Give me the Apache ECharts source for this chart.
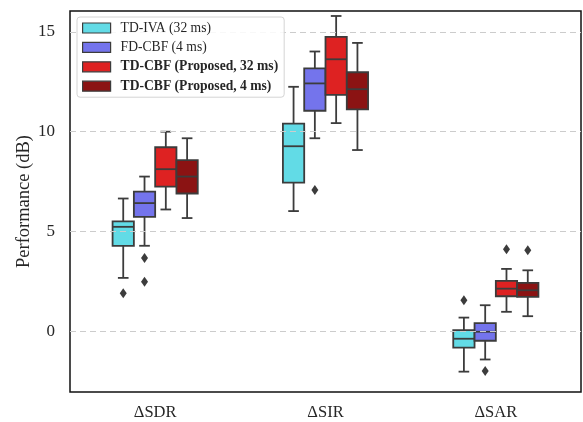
<!DOCTYPE html>
<html><head><meta charset="utf-8">
<script src="https://cdn.jsdelivr.net/npm/echarts@6/dist/echarts.min.js"></script>
<style>html,body{margin:0;padding:0;background:#fff}#c{width:583px;height:422px}</style>
</head><body><div id="c"></div>
<script>
const categories = ['ΔSDR', 'ΔSIR', 'ΔSAR'];
const seriesNames = ['TD-IVA (32 ms)', 'FD-CBF (4 ms)', 'TD-CBF (Proposed, 32 ms)', 'TD-CBF (Proposed, 4 ms)'];
const seriesColors = ['#62dbe6', '#7474ec', '#de2222', '#8b1313'];
// [min, Q1, median, Q3, max] per category
const tdIva = [[2.67, 4.28, 5.23, 5.5, 6.65], [6.02, 7.45, 9.27, 10.4, 12.25], [-2.03, -0.83, -0.38, 0.05, 0.68]];
const tdIvaOut = [[1.9], [], [1.55]];
const fdCbf = [[4.28, 5.73, 6.42, 7.0, 7.75], [9.67, 11.05, 12.42, 13.17, 14.02], [-1.42, -0.48, -0.03, 0.4, 1.3]];
const fdCbfOut = [[3.67, 2.48], [7.08], [-2.0]];
const tdCbf32 = [[6.1, 7.25, 8.12, 9.22, 10.0], [10.43, 11.85, 13.63, 14.75, 15.8], [0.97, 1.75, 2.13, 2.52, 3.12]];
const tdCbf32Out = [[], [], [4.1]];
const tdCbf4 = [[5.67, 6.9, 7.75, 8.57, 9.67], [9.08, 11.12, 12.13, 12.98, 14.45], [0.75, 1.72, 2.05, 2.42, 3.05]];
const tdCbf4Out = [[], [], [4.05]];
const yTicks = [0, 5, 10, 15];

const allStats = [tdIva, fdCbf, tdCbf32, tdCbf4];
const allOut = [tdIvaOut, fdCbfOut, tdCbf32Out, tdCbf4Out];
const edge = '#3c3c3c';
const font = 'Liberation Serif';

function makeRender(k) {
  return function (params, api) {
    const cat = api.value(0);
    const band = api.size([1, 0])[0];
    const bw = band * 0.125;
    const cx = api.coord([cat, 0])[0] + (k - 1.5) * bw;
    const y = v => api.coord([cat, v])[1];
    const mn = y(api.value(1)), q1 = y(api.value(2)), md = y(api.value(3)), q3 = y(api.value(4)), mx = y(api.value(5));
    const ls = { stroke: edge, lineWidth: 1.8 };
    const children = [
      { type: 'line', shape: { x1: cx, y1: mn, x2: cx, y2: q1 }, style: ls },
      { type: 'line', shape: { x1: cx, y1: q3, x2: cx, y2: mx }, style: ls },
      { type: 'line', shape: { x1: cx - bw / 4, y1: mn, x2: cx + bw / 4, y2: mn }, style: ls },
      { type: 'line', shape: { x1: cx - bw / 4, y1: mx, x2: cx + bw / 4, y2: mx }, style: ls },
      { type: 'rect', shape: { x: cx - bw / 2, y: q3, width: bw, height: q1 - q3 }, style: { fill: seriesColors[k], stroke: edge, lineWidth: 1.8 } },
      { type: 'line', shape: { x1: cx - bw / 2, y1: md, x2: cx + bw / 2, y2: md }, style: ls }
    ];
    (allOut[k][params.dataIndex] || []).forEach(v => {
      const oy = y(v);
      children.push({ type: 'polygon', shape: { points: [[cx, oy - 5], [cx + 3.5, oy], [cx, oy + 5], [cx - 3.5, oy]] }, style: { fill: edge } });
    });
    return { type: 'group', children };
  };
}

const series = [{
  type: 'line', data: [], z: 1, silent: true,
  markLine: {
    silent: true, symbol: 'none', animation: false, label: { show: false },
    lineStyle: { color: '#cccccc', type: [6, 4], width: 1 },
    data: yTicks.map(v => ({ yAxis: v }))
  }
}];
allStats.forEach((st, k) => {
  series.push({
    name: seriesNames[k], type: 'custom', z: 3,
    itemStyle: { color: seriesColors[k] },
    renderItem: makeRender(k),
    encode: { x: 0, y: [1, 2, 3, 4, 5] },
    data: categories.map((c, i) => [i].concat(st[i]))
  });
});

const chart = echarts.init(document.getElementById('c'));
chart.setOption({
  animation: false,
  grid: { left: 70, right: 2, top: 11, bottom: 30, show: true, borderColor: '#111', borderWidth: 1.5, backgroundColor: '#fff' },
  legend: {
    orient: 'vertical', left: 77, top: 17, itemWidth: 28, itemHeight: 10, itemGap: 3.4,
    padding: [3, 6, 3, 5], borderColor: '#d4d4d4', borderWidth: 1, borderRadius: 3,
    backgroundColor: 'rgba(255,255,255,0.85)', selectedMode: false, z: 10,
    textStyle: { fontFamily: font, fontSize: 13.6, color: '#262626', lineHeight: 16, padding: [0, 0, 0, 5] },
    data: seriesNames.map((n, i) => ({
      name: n, icon: 'rect',
      itemStyle: { color: seriesColors[i], borderColor: edge, borderWidth: 1.2 },
      textStyle: { fontWeight: i >= 2 ? 'bold' : 'normal' }
    }))
  },
  xAxis: {
    type: 'category', data: categories,
    axisLine: { show: false }, axisTick: { show: false },
    axisLabel: { fontFamily: font, fontSize: 16.5, color: '#262626', margin: 12 },
    splitLine: { show: false }
  },
  yAxis: {
    type: 'value', min: -3.05, max: 16.05,
    name: 'Performance (dB)', nameLocation: 'middle', nameGap: 36.5, nameMoveOverlap: false,
    nameTextStyle: { fontFamily: font, fontSize: 18.5, color: '#262626' },
    axisLine: { show: false }, axisTick: { show: false },
    axisLabel: { customValues: yTicks, fontFamily: font, fontSize: 17, color: '#262626', margin: 15 },
    splitLine: { show: false }
  },
  series
});
</script></body></html>
